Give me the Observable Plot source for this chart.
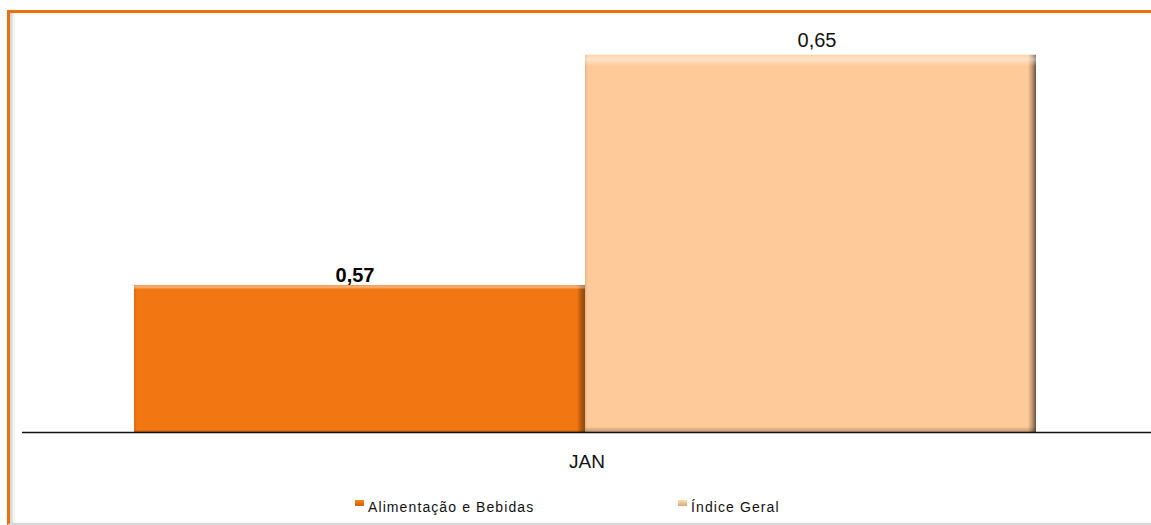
<!DOCTYPE html>
<html>
<head>
<meta charset="utf-8">
<script src="https://cdn.jsdelivr.net/npm/d3@7"></script>
<script src="https://cdn.jsdelivr.net/npm/@observablehq/plot@0.6"></script>
<style>
  html, body { margin: 0; padding: 0; background: #fff; width: 1151px; height: 525px; overflow: hidden; }
  body { position: relative; font-family: "Liberation Sans", Arial, sans-serif; }
  #frame { position: absolute; left: 7px; top: 10px; width: 1144px; height: 510px;
           border-top: 3px solid #E8720F; border-left: 3px solid #E8720F;
           border-bottom: 2px solid #d8d8d8;
           box-shadow: inset 4px 0 4px -2px #c8c8c8; }
  #chart { position: absolute; left: 0; top: 0; }
  #legend { position: absolute; top: 499px; left: 0; width: 1151px; font-size: 14px; color: #111; }
  .item { position: absolute; white-space: nowrap; letter-spacing: 1.1px; }
  .sw { display: inline-block; width: 9px; height: 6px; margin-right: 4px; vertical-align: 6px; }
</style>
</head>
<body>
<div id="frame"></div>
<div id="chart"></div>
<div id="legend"></div>
<script>
const months = ["JAN"];
const series = ["Alimentação e Bebidas", "Índice Geral"];
const values = [0.57, 0.65];
const labels = ["0,57", "0,65"];
const colors = ["#F27612", "#FFCA99"];
const edgeColors = ["#8a4a10", "#6b5040"];

const data = series.map((s, i) => ({month: months[0], series: s, value: values[i], label: labels[i], bold: i === 0}));

const yMin = 0.519;

const plot = Plot.plot({
  width: 1151,
  height: 490,
  marginLeft: 22,
  marginRight: 0,
  marginTop: 26,
  marginBottom: 58,
  style: {fontFamily: "'Liberation Sans', Arial, sans-serif", background: "transparent", overflow: "visible"},
  fx: {domain: months, padding: 0, label: null},
  x: {domain: series, paddingInner: 0, paddingOuter: 0.249, align: 0.493, axis: null},
  y: {domain: [yMin, 0.66], axis: null},
  color: {domain: series, range: colors},
  marks: [
    Plot.rectY(data, {fx: "month", x: "series", y1: yMin, y2: "value", fill: d => "url(#g" + series.indexOf(d.series) + ")"}),
    Plot.rectY(data, {fx: "month", x: "series", y1: yMin, y2: "value", fill: "url(#hl)"}),
    Plot.ruleY([yMin], {stroke: "#111", strokeWidth: 1.5}),
    Plot.text(data.filter(d => d.bold), {fx: "month", x: "series", y: "value", text: "label", dy: -10, dx: -5, fontSize: 20, fontWeight: "bold", fill: "#000"}),
    Plot.text(data.filter(d => !d.bold), {fx: "month", x: "series", y: "value", text: "label", dy: -15, dx: 6, fontSize: 20, fill: "#111"}),
    Plot.axisFx({anchor: "bottom", tickSize: 0, tickPadding: 22, fontSize: 19, label: null, fill: "#111"})
  ]
});

// gradients for bevel look
const svg = d3.select(plot);
const defs = svg.insert("defs", ":first-child");
colors.forEach((c, i) => {
  const g = defs.append("linearGradient").attr("id", "g" + i).attr("x1", 0).attr("x2", 1).attr("y1", 0).attr("y2", 0);
  g.append("stop").attr("offset", "0").attr("stop-color", d3.color(c).darker(0.3));
  g.append("stop").attr("offset", "0.006").attr("stop-color", c);
  g.append("stop").attr("offset", "0.982").attr("stop-color", c);
  g.append("stop").attr("offset", "0.992").attr("stop-color", d3.color(c).darker(0.9));
  g.append("stop").attr("offset", "1").attr("stop-color", edgeColors[i]);
});
const hl = defs.append("linearGradient").attr("id", "hl").attr("x1", 0).attr("x2", 0).attr("y1", 0).attr("y2", 1);
hl.append("stop").attr("offset", "0").attr("stop-color", "#fff").attr("stop-opacity", 0.15);
hl.append("stop").attr("offset", "0.012").attr("stop-color", "#fff").attr("stop-opacity", 0.45);
hl.append("stop").attr("offset", "0.03").attr("stop-color", "#fff").attr("stop-opacity", 0);
hl.append("stop").attr("offset", "0.985").attr("stop-color", "#000").attr("stop-opacity", 0);
hl.append("stop").attr("offset", "1").attr("stop-color", "#000").attr("stop-opacity", 0.25);

document.getElementById("chart").appendChild(plot);

const legend = document.getElementById("legend");
const legendX = [355, 678];
series.forEach((s, i) => {
  const it = document.createElement("div");
  it.className = "item";
  it.style.left = legendX[i] + "px";
  const sw = document.createElement("span");
  sw.className = "sw";
  sw.style.background = `linear-gradient(to bottom, ${d3.color(colors[i]).brighter(0.3)}, ${d3.color(colors[i]).darker(0.5)})`;
  it.appendChild(sw);
  it.appendChild(document.createTextNode(s));
  legend.appendChild(it);
});
</script>
</body>
</html>
